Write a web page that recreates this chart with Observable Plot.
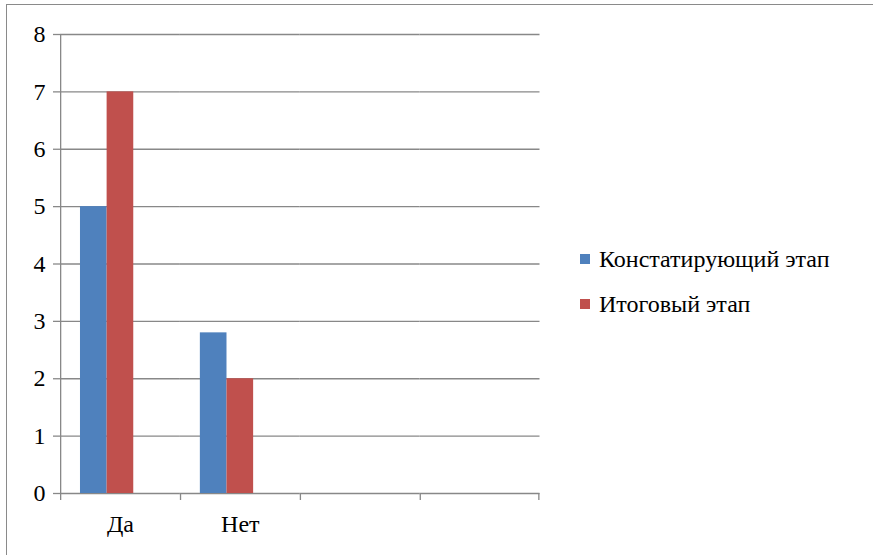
<!DOCTYPE html>
<html>
<head>
<meta charset="utf-8">
<script src="https://cdn.jsdelivr.net/npm/d3@7"></script>
<script src="https://cdn.jsdelivr.net/npm/@observablehq/plot@0.6"></script>
<style>
  html, body { margin: 0; padding: 0; background: #fff; }
  #wrap { position: relative; width: 873px; height: 555px; overflow: hidden; }
  #border { position: absolute; left: 6px; top: 4px; right: -10px; bottom: -10px;
            border-top: 1.5px solid #8a8a8a; border-left: 1.5px solid #8a8a8a; }
  #legend { position: absolute; left: 580px; top: 236px; font-family: "Liberation Serif", "DejaVu Serif", serif;
            font-size: 24px; color: #000; }
  .item { display: flex; align-items: center; height: 45px; line-height: 1; }
  .sw { width: 10px; height: 10px; margin-right: 9px; margin-top: 1px; }
</style>
</head>
<body>
<div id="wrap"><div id="border"></div><div id="legend"></div></div>
<script>
const categories = ["Да", "Нет", " ", "  "];
const series = ["Констатирующий этап", "Итоговый этап"];
const konstValues = [5, 2.8, null, null];
const itogValues = [7, 2, null, null];
const yTicks = [0, 1, 2, 3, 4, 5, 6, 7, 8];
const colors = ["#4f81bd", "#c0504d"];

const rows = [];
categories.forEach((c, i) => {
  if (konstValues[i] != null) rows.push({cat: c, series: series[0], value: konstValues[i]});
  if (itogValues[i] != null) rows.push({cat: c, series: series[1], value: itogValues[i]});
});

const W = 873, H = 555, ML = 60, MR = 333.5, MT = 34, MB = 62;
const bandW = (W - ML - MR) / categories.length;
const gray = "#888";

const chart = Plot.plot({
  width: W, height: H,
  marginLeft: ML, marginRight: MR, marginTop: MT, marginBottom: MB,
  style: {fontFamily: "'Liberation Serif', 'DejaVu Serif', serif", fontSize: "24px", color: "#000", background: "transparent"},
  fx: {domain: categories, padding: 0, round: false, label: null},
  x: {domain: [...series, "_empty"], paddingInner: 0, paddingOuter: 0.75, round: false, axis: null},
  y: {domain: [0, 8], ticks: yTicks, label: null},
  color: {domain: series, range: colors},
  marks: [
    Plot.ruleY(yTicks, {stroke: gray, strokeWidth: 1.3}),
    Plot.barY(rows, {fx: "cat", x: "series", y: "value", fill: "series"}),
    Plot.rect([categories[0]], {fx: d => d, y1: 0, y2: 8, insetRight: bandW - 1.3, fill: gray}),
    Plot.rect(categories, {fx: d => d, y1: 0, y2: 0, insetBottom: -7, insetRight: bandW - 1.3, fill: gray}),
    Plot.rect([categories[categories.length - 1]], {fx: d => d, y1: 0, y2: 0, insetBottom: -7, insetLeft: bandW - 1.3, fill: gray}),
    Plot.axisY({ticks: yTicks, tickSize: 7, tickPadding: 8, stroke: gray, strokeWidth: 1.3, label: null}),
    Plot.axisFx({anchor: "bottom", tickSize: 0, tickPadding: 21, label: null})
  ]
});
document.getElementById("wrap").appendChild(chart);

const legend = document.getElementById("legend");
series.forEach((s, i) => {
  const item = document.createElement("div");
  item.className = "item";
  const sw = document.createElement("div");
  sw.className = "sw";
  sw.style.background = colors[i];
  const t = document.createElement("span");
  t.textContent = s;
  item.appendChild(sw);
  item.appendChild(t);
  legend.appendChild(item);
});
</script>
</body>
</html>
